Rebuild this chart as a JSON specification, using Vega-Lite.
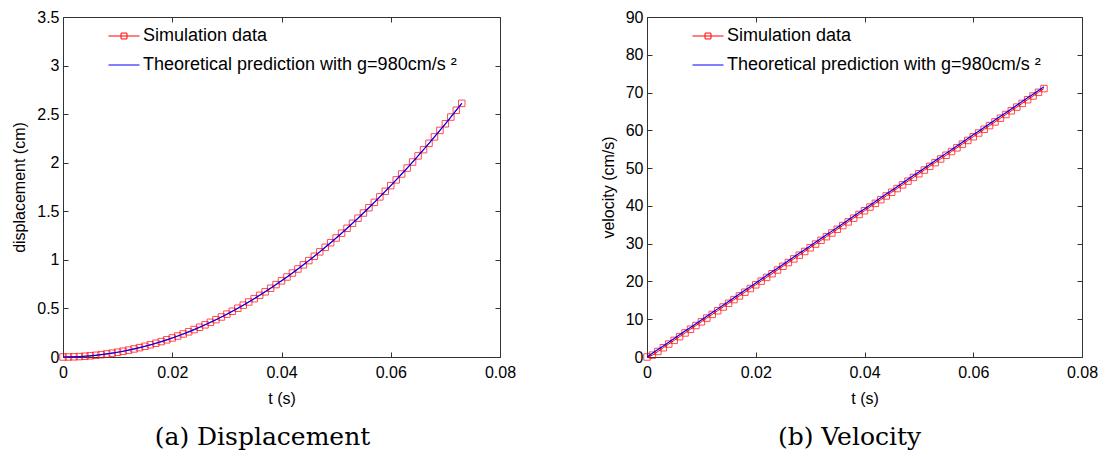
{
"$schema":"https://vega.github.io/schema/vega-lite/v6.json",
"background":"white",
"padding":{"left":11,"top":8,"right":5,"bottom":5},
"data":{"values":[
{"t":0,"d":0,"v":0,"vs":0},
{"t":0.001,"d":0.0005,"v":0.98,"vs":0.49},
{"t":0.002,"d":0.002,"v":1.96,"vs":1.47},
{"t":0.003,"d":0.0044,"v":2.94,"vs":2.45},
{"t":0.004,"d":0.0078,"v":3.92,"vs":3.43},
{"t":0.005,"d":0.0123,"v":4.9,"vs":4.41},
{"t":0.006,"d":0.0176,"v":5.88,"vs":5.39},
{"t":0.007,"d":0.024,"v":6.86,"vs":6.37},
{"t":0.008,"d":0.0314,"v":7.84,"vs":7.35},
{"t":0.009,"d":0.0397,"v":8.82,"vs":8.33},
{"t":0.010,"d":0.049,"v":9.8,"vs":9.31},
{"t":0.011,"d":0.0593,"v":10.78,"vs":10.29},
{"t":0.012,"d":0.0706,"v":11.76,"vs":11.27},
{"t":0.013,"d":0.0828,"v":12.74,"vs":12.25},
{"t":0.014,"d":0.096,"v":13.72,"vs":13.23},
{"t":0.015,"d":0.1103,"v":14.7,"vs":14.21},
{"t":0.016,"d":0.1254,"v":15.68,"vs":15.19},
{"t":0.017,"d":0.1416,"v":16.66,"vs":16.17},
{"t":0.018,"d":0.1588,"v":17.64,"vs":17.15},
{"t":0.019,"d":0.1769,"v":18.62,"vs":18.13},
{"t":0.020,"d":0.196,"v":19.6,"vs":19.11},
{"t":0.021,"d":0.2161,"v":20.58,"vs":20.09},
{"t":0.022,"d":0.2372,"v":21.56,"vs":21.07},
{"t":0.023,"d":0.2592,"v":22.54,"vs":22.05},
{"t":0.024,"d":0.2822,"v":23.52,"vs":23.03},
{"t":0.025,"d":0.3063,"v":24.5,"vs":24.01},
{"t":0.026,"d":0.3312,"v":25.48,"vs":24.99},
{"t":0.027,"d":0.3572,"v":26.46,"vs":25.97},
{"t":0.028,"d":0.3842,"v":27.44,"vs":26.95},
{"t":0.029,"d":0.4121,"v":28.42,"vs":27.93},
{"t":0.030,"d":0.441,"v":29.4,"vs":28.91},
{"t":0.031,"d":0.4709,"v":30.38,"vs":29.89},
{"t":0.032,"d":0.5018,"v":31.36,"vs":30.87},
{"t":0.033,"d":0.5336,"v":32.34,"vs":31.85},
{"t":0.034,"d":0.5664,"v":33.32,"vs":32.83},
{"t":0.035,"d":0.6003,"v":34.3,"vs":33.81},
{"t":0.036,"d":0.635,"v":35.28,"vs":34.79},
{"t":0.037,"d":0.6708,"v":36.26,"vs":35.77},
{"t":0.038,"d":0.7076,"v":37.24,"vs":36.75},
{"t":0.039,"d":0.7453,"v":38.22,"vs":37.73},
{"t":0.040,"d":0.784,"v":39.2,"vs":38.71},
{"t":0.041,"d":0.8237,"v":40.18,"vs":39.69},
{"t":0.042,"d":0.8644,"v":41.16,"vs":40.67},
{"t":0.043,"d":0.906,"v":42.14,"vs":41.65},
{"t":0.044,"d":0.9486,"v":43.12,"vs":42.63},
{"t":0.045,"d":0.9923,"v":44.1,"vs":43.61},
{"t":0.046,"d":1.0368,"v":45.08,"vs":44.59},
{"t":0.047,"d":1.0824,"v":46.06,"vs":45.57},
{"t":0.048,"d":1.129,"v":47.04,"vs":46.55},
{"t":0.049,"d":1.1765,"v":48.02,"vs":47.53},
{"t":0.050,"d":1.225,"v":49,"vs":48.51},
{"t":0.051,"d":1.2745,"v":49.98,"vs":49.49},
{"t":0.052,"d":1.325,"v":50.96,"vs":50.47},
{"t":0.053,"d":1.3764,"v":51.94,"vs":51.45},
{"t":0.054,"d":1.4288,"v":52.92,"vs":52.43},
{"t":0.055,"d":1.4823,"v":53.9,"vs":53.41},
{"t":0.056,"d":1.5366,"v":54.88,"vs":54.39},
{"t":0.057,"d":1.592,"v":55.86,"vs":55.37},
{"t":0.058,"d":1.6484,"v":56.84,"vs":56.35},
{"t":0.059,"d":1.7057,"v":57.82,"vs":57.33},
{"t":0.060,"d":1.764,"v":58.8,"vs":58.31},
{"t":0.061,"d":1.8233,"v":59.78,"vs":59.29},
{"t":0.062,"d":1.8836,"v":60.76,"vs":60.27},
{"t":0.063,"d":1.9448,"v":61.74,"vs":61.25},
{"t":0.064,"d":2.007,"v":62.72,"vs":62.23},
{"t":0.065,"d":2.0703,"v":63.7,"vs":63.21},
{"t":0.066,"d":2.1344,"v":64.68,"vs":64.19},
{"t":0.067,"d":2.1996,"v":65.66,"vs":65.17},
{"t":0.068,"d":2.2658,"v":66.64,"vs":66.15},
{"t":0.069,"d":2.3329,"v":67.62,"vs":67.13},
{"t":0.070,"d":2.401,"v":68.6,"vs":68.11},
{"t":0.071,"d":2.4701,"v":69.58,"vs":69.09},
{"t":0.072,"d":2.5402,"v":70.56,"vs":70.07},
{"t":0.073,"d":2.6112,"v":71.54,"vs":71.05}
]},
"config":{
 "view":{"stroke":"#333","strokeWidth":1},
 "axis":{"domain":false,"grid":false,"tickSize":-5,"tickColor":"#333","labelFont":"Liberation Sans","labelFontSize":16,"labelColor":"black","titleFont":"Liberation Sans","titleFontSize":16,"titleFontWeight":"normal","titleColor":"black","labelPadding":12,"titlePadding":9,"labelFlush":false},
 "axisX":{"titlePadding":10},
 "axisY":{"labelPadding":9},
 "legend":{"orient":"none","legendX":45,"legendY":3,"labelFont":"Liberation Sans","labelFontSize":18,"labelColor":"black","labelLimit":0,"symbolSize":961,"symbolStrokeWidth":1,"rowPadding":4,"labelOffset":3,"padding":0,"title":null}
},
"resolve":{"scale":{"color":"independent"},"legend":{"color":"independent"}},
"spacing":82,
"hconcat":[
{
 "width":437,"height":340,
 "title":{"text":"(a) Displacement","orient":"bottom","anchor":"middle","font":"DejaVu Serif","fontSize":25,"fontWeight":"normal","color":"black","offset":19,"dx":-19},
 "resolve":{"axis":{"x":"independent","y":"independent"}},
 "layer":[
  {"mark":{"type":"line","strokeWidth":1},
   "encoding":{
    "x":{"field":"t","type":"quantitative","scale":{"domain":[0,0.08],"nice":false},"axis":{"values":[0,0.02,0.04,0.06,0.08],"format":".2~f","title":"t (s)"}},
    "y":{"field":"d","type":"quantitative","scale":{"domain":[0,3.5],"nice":false},"axis":{"values":[0,0.5,1,1.5,2,2.5,3,3.5],"format":".1~f","title":"displacement (cm)"}},
    "color":{"datum":"Simulation data","scale":{"domain":["Simulation data","Theoretical prediction with g=980cm/s ²"],"range":["#ff0000","#0000ff"]},
     "legend":{"encode":{"symbols":{"update":{"shape":{"signal":"datum.value == 'Simulation data' ? 'M-1,0H1M-0.19,-0.19H0.19V0.19H-0.19Z' : 'M-1,0H1'"},"fill":{"value":"transparent"},"stroke":{"signal":"datum.value == 'Simulation data' ? '#ff0000' : '#0000ff'"}}}}}}
   }},
  {"mark":{"type":"point","shape":"square","size":42,"filled":false,"strokeWidth":1},
   "encoding":{
    "x":{"field":"t","type":"quantitative","axis":null},
    "y":{"field":"d","type":"quantitative","axis":null},
    "color":{"datum":"Simulation data"}
   }},
  {"mark":{"type":"line","strokeWidth":1.2},
   "encoding":{
    "x":{"field":"t","type":"quantitative","axis":{"orient":"top","labels":false,"title":null,"values":[0,0.02,0.04,0.06,0.08]}},
    "y":{"field":"d","type":"quantitative","axis":{"orient":"right","labels":false,"title":null,"values":[0,0.5,1,1.5,2,2.5,3,3.5]}},
    "color":{"datum":"Theoretical prediction with g=980cm/s ²"}
   }}
 ]
},
{
 "width":435,"height":340,
 "title":{"text":"(b) Velocity","orient":"bottom","anchor":"middle","font":"DejaVu Serif","fontSize":25,"fontWeight":"normal","color":"black","offset":19,"dx":-15},
 "resolve":{"axis":{"x":"independent","y":"independent"}},
 "layer":[
  {"mark":{"type":"line","strokeWidth":1},
   "encoding":{
    "x":{"field":"t","type":"quantitative","scale":{"domain":[0,0.08],"nice":false},"axis":{"values":[0,0.02,0.04,0.06,0.08],"format":".2~f","title":"t (s)"}},
    "y":{"field":"vs","type":"quantitative","scale":{"domain":[0,90],"nice":false},"axis":{"values":[0,10,20,30,40,50,60,70,80,90],"title":"velocity (cm/s)"}},
    "color":{"datum":"Simulation data","scale":{"domain":["Simulation data","Theoretical prediction with g=980cm/s ²"],"range":["#ff0000","#0000ff"]},
     "legend":{"encode":{"symbols":{"update":{"shape":{"signal":"datum.value == 'Simulation data' ? 'M-1,0H1M-0.19,-0.19H0.19V0.19H-0.19Z' : 'M-1,0H1'"},"fill":{"value":"transparent"},"stroke":{"signal":"datum.value == 'Simulation data' ? '#ff0000' : '#0000ff'"}}}}}}
   }},
  {"mark":{"type":"point","shape":"square","size":42,"filled":false,"strokeWidth":1},
   "encoding":{
    "x":{"field":"t","type":"quantitative","axis":null},
    "y":{"field":"vs","type":"quantitative","axis":null},
    "color":{"datum":"Simulation data"}
   }},
  {"mark":{"type":"line","strokeWidth":1.2},
   "encoding":{
    "x":{"field":"t","type":"quantitative","axis":{"orient":"top","labels":false,"title":null,"values":[0,0.02,0.04,0.06,0.08]}},
    "y":{"field":"v","type":"quantitative","axis":{"orient":"right","labels":false,"title":null,"values":[0,10,20,30,40,50,60,70,80,90]}},
    "color":{"datum":"Theoretical prediction with g=980cm/s ²"}
   }}
 ]
}
]
}
